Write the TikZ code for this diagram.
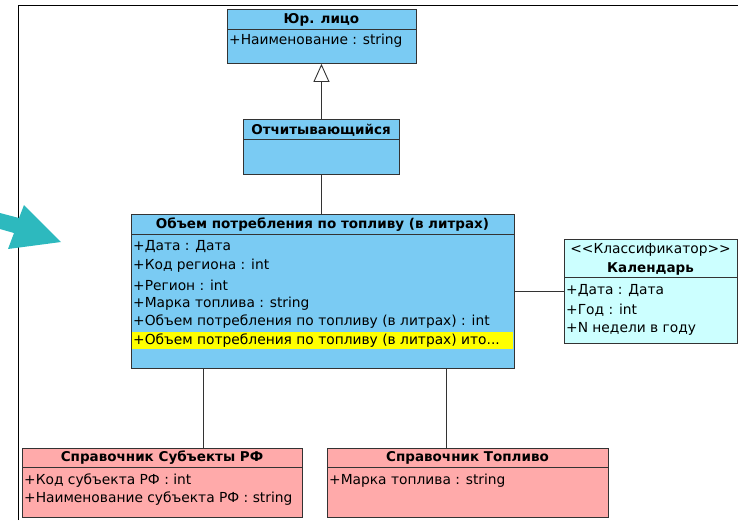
\documentclass[tikz,border=0pt]{standalone}
\usepackage{fontspec}
\setmainfont{DejaVu Sans}
\usetikzlibrary{arrows.meta}
\definecolor{bleu}{HTML}{7ACBF3}
\definecolor{rose}{HTML}{FFAAAA}
\definecolor{cyanclair}{HTML}{CCFFFF}
\definecolor{sarcelle}{HTML}{2DB9BE}
\definecolor{surligne}{HTML}{FFFF00}

\begin{document}
\begin{tikzpicture}[x=1pt,y=-1pt]
\tikzset{classe/.style={rectangle, draw=black!80, line width=0.9pt, inner sep=0pt, anchor=north west},
  titre/.style={font=\bfseries\fontsize{13.5}{15}\selectfont, inner sep=0pt},
  attr/.style={font=\fontsize{13.8}{15}\selectfont, inner sep=0pt, anchor=west},
  lien/.style={draw=black!80, line width=0.9pt},
  herit/.style={lien, -{Triangle[open, width=16pt, length=18pt]}}};
\useasboundingbox (0,0) rectangle (738,520);

% cadre
\draw[line width=1pt] (18,520) -- (18,5) -- (738,5);
\fill[sarcelle] (0,213) -- (19,218) -- (24,205) -- (61,242) -- (8,249) -- (14,233) -- (0,229) -- cycle;

% classes
\node[classe, fill=bleu, minimum width=189, minimum height=54] (jur) at (227,9) {};
\node[classe, fill=bleu, minimum width=156, minimum height=55] (otch) at (243,119) {};
\node[classe, fill=bleu, minimum width=383, minimum height=154] (obj) at (131,214) {};
\node[classe, fill=cyanclair, minimum width=173, minimum height=104] (kal) at (564,239) {};
\node[classe, fill=rose, minimum width=280, minimum height=69] (subj) at (22,448) {};
\node[classe, fill=rose, minimum width=281, minimum height=69] (topl) at (327,448) {};

% separateurs
\draw[lien] ([yshift=-20pt]jur.north west) -- ([yshift=-20pt]jur.north east);
\draw[lien] ([yshift=-20pt]otch.north west) -- ([yshift=-20pt]otch.north east);
\draw[lien] ([yshift=-20pt]obj.north west) -- ([yshift=-20pt]obj.north east);
\draw[lien] ([yshift=-38pt]kal.north west) -- ([yshift=-38pt]kal.north east);
\draw[lien] ([yshift=-19pt]subj.north west) -- ([yshift=-19pt]subj.north east);
\draw[lien] ([yshift=-19pt]topl.north west) -- ([yshift=-19pt]topl.north east);
\fill[surligne] (132,332) rectangle (513,349);

% textes
\node[titre] (jurT) at (321.5,20) {Юр. лицо};
\node[attr] (jurA) at (229,41) {+Наименование : string};
\node[titre] (otchT) at (321,130) {Отчитывающийся};
\node[titre] (objT) at (322.5,225) {Объем потребления по топливу (в литрах)};
\node[attr] (objA1) at (133,247) {+Дата : Дата};
\node[attr] (objA2) at (133,266) {+Код региона : int};
\node[attr] (objA3) at (133,285) {+Регион : int};
\node[attr] (objA4) at (133,304) {+Марка топлива : string};
\node[attr] (objA5) at (133,322) {+Объем потребления по топливу (в литрах) : int};
\node[attr] (objA6) at (133,341) {+Объем потребления по топливу (в литрах) ито...};
\node[attr, anchor=center] (kalS) at (650.5,250) {<{}<Классификатор>{}>};
\node[titre] (kalT) at (650.5,269) {Календарь};
\node[attr] (kalA1) at (566,291) {+Дата : Дата};
\node[attr] (kalA2) at (566,310) {+Год : int};
\node[attr] (kalA3) at (566,329) {+N недели в году};
\node[titre] (subjT) at (162,458) {Справочник Субъекты РФ};
\node[attr] (subjA1) at (24,481) {+Код субъекта РФ : int};
\node[attr] (subjA2) at (24,499) {+Наименование субъекта РФ : string};
\node[titre] (toplT) at (467.5,458) {Справочник Топливо};
\node[attr] (toplA) at (329,481) {+Марка топлива : string};

% liens
\draw[herit] (otch.north) -- (otch.north |- jur.south);
\draw[lien] (otch.south) -- (otch.south |- obj.north);
\draw[lien] (obj.east) -- (kal.west);
\draw[lien] ([xshift=72pt]obj.south west) -- ([xshift=181pt]subj.north west);
\draw[lien] ([xshift=315pt]obj.south west) -- ([xshift=119pt]topl.north west);
\end{tikzpicture}
\end{document}
